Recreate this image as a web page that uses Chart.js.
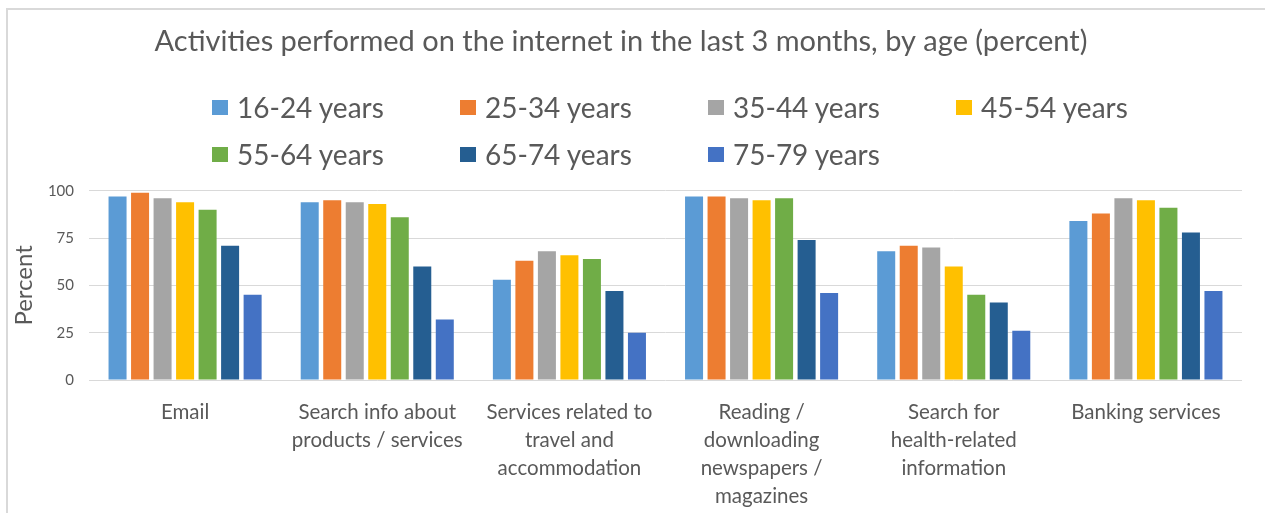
<!DOCTYPE html>
<html><head><meta charset="utf-8">
<script src="https://cdn.jsdelivr.net/npm/chart.js@4"></script>
<style>
html,body{margin:0;padding:0;background:#fff;overflow:hidden;}
#wrap{position:relative;width:1265px;height:513px;overflow:hidden;}
#frame{position:absolute;left:6px;top:8px;width:1400px;height:700px;border-left:2px solid #d9d9d9;border-top:2px solid #d9d9d9;}
#cbox{position:absolute;left:0;top:0;width:1265px;height:513px;}
.li{position:absolute;display:flex;align-items:center;font-family:Lato,sans-serif;font-size:28px;line-height:34px;height:34px;color:#595959;white-space:nowrap;}
.sw{width:16px;height:15px;margin-right:9px;flex:none;}
</style></head>
<body><div id="wrap"><div id="frame"></div><div id="cbox"><canvas id="c"></canvas></div><div id="legend"></div></div>
<script>
const titleText = 'Activities performed on the internet in the last 3 months, by age (percent)';
const categories = [
  ['Email'],
  ['Search info about', 'products / services'],
  ['Services related to', 'travel and', 'accommodation'],
  ['Reading /', 'downloading', 'newspapers /', 'magazines'],
  ['Search for', 'health-related', 'information'],
  ['Banking services']
];
const seriesNames = ['16-24 years', '25-34 years', '35-44 years', '45-54 years', '55-64 years', '65-74 years', '75-79 years'];
const seriesColors = ['#5B9BD5', '#ED7D31', '#A5A5A5', '#FFC000', '#70AD47', '#255E91', '#4472C4'];
const age16_24 = [97, 94, 53, 97, 68, 84];
const age25_34 = [99, 95, 63, 97, 71, 88];
const age35_44 = [96, 94, 68, 96, 70, 96];
const age45_54 = [94, 93, 66, 95, 60, 95];
const age55_64 = [90, 86, 64, 96, 45, 91];
const age65_74 = [71, 60, 47, 74, 41, 78];
const age75_79 = [45, 32, 25, 46, 26, 47];
const yTicks = [0, 25, 50, 75, 100];
const yAxisTitle = 'Percent';

const seriesValues = [age16_24, age25_34, age35_44, age45_54, age55_64, age65_74, age75_79];
const textColor = '#595959';
const gridColor = '#D9D9D9';

const datasets = seriesNames.map((name, i) => ({
  label: name,
  data: seriesValues[i],
  backgroundColor: seriesColors[i],
  borderWidth: 0,
  barPercentage: 0.8,
  categoryPercentage: 0.82
}));

// HTML legend (4 columns, rows left-aligned like the reference)
const legend = document.getElementById('legend');
seriesNames.forEach((name, i) => {
  const col = i % 4, row = Math.floor(i / 4);
  const d = document.createElement('div');
  d.className = 'li';
  d.style.left = (212 + col * 248) + 'px';
  d.style.top = (90 + row * 47) + 'px';
  const sw = document.createElement('span');
  sw.className = 'sw';
  sw.style.background = seriesColors[i];
  const t = document.createElement('span');
  t.textContent = name;
  d.appendChild(sw); d.appendChild(t);
  legend.appendChild(d);
});

new Chart(document.getElementById('c'), {
  type: 'bar',
  data: { labels: categories, datasets },
  options: {
    responsive: true,
    maintainAspectRatio: false,
    animation: false,
    layout: { padding: { left: 0, right: 23, top: 0, bottom: 0 } },
    plugins: {
      legend: { display: false },
      tooltip: { enabled: false },
      title: {
        display: true,
        text: titleText,
        color: textColor,
        font: { family: 'Lato', size: 29, weight: 'normal', lineHeight: 1.2 },
        padding: { top: 24, bottom: 132 }
      }
    },
    scales: {
      x: {
        afterFit: (s) => { s.height = 133; },
        grid: { display: false },
        border: { display: false },
        ticks: {
          color: textColor,
          font: { family: 'Lato', size: 20.5, lineHeight: '28px' },
          padding: 10,
          maxRotation: 0,
          autoSkip: false
        }
      },
      y: {
        min: 0, max: 100,
        afterFit: (s) => { s.width = 89; },
        afterBuildTicks: (s) => { s.ticks = yTicks.map(v => ({ value: v })); },
        grid: { color: gridColor, lineWidth: 1, drawTicks: false },
        border: { display: false },
        ticks: {
          color: textColor,
          font: { family: 'Lato', size: 15 },
          padding: 15
        },
        title: {
          display: true,
          text: yAxisTitle,
          color: textColor,
          font: { family: 'Lato', size: 24, lineHeight: 1.2 },
          padding: { top: 10, bottom: 0 }
        }
      }
    }
  }
});
</script>
</body></html>
